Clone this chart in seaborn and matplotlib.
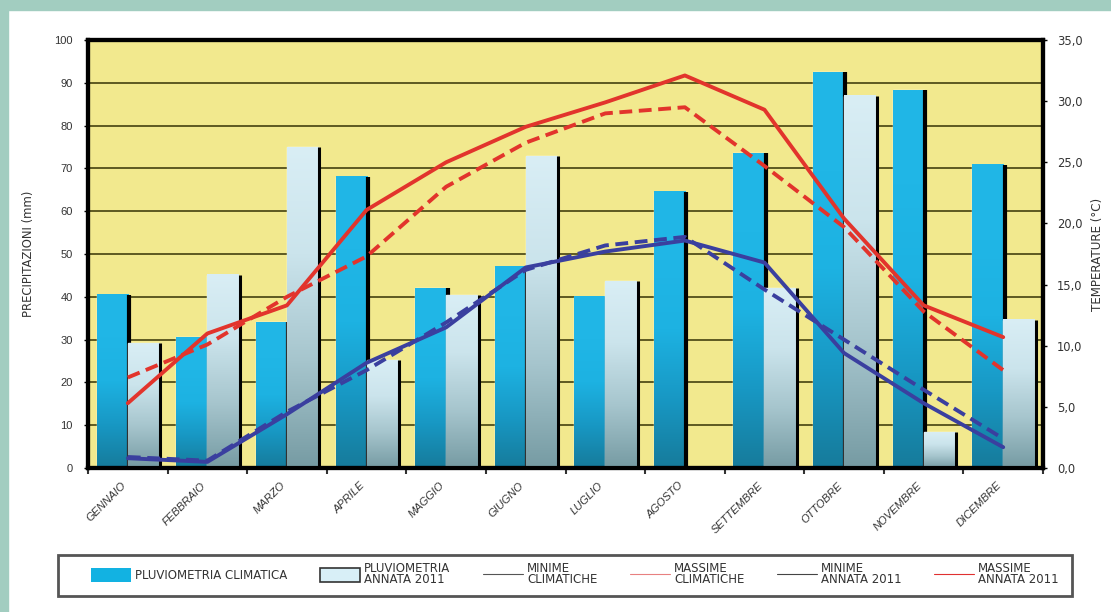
import numpy as np
import pandas as pd
import matplotlib
matplotlib.use("Agg")
import matplotlib.pyplot as plt
import seaborn as sns
from matplotlib.patches import Patch, Rectangle
from matplotlib.lines import Line2D
from matplotlib.colors import LinearSegmentedColormap
from matplotlib.ticker import FuncFormatter, MultipleLocator

# --- dati mensili -----------------------------------------------------------
mesi = ["GENNAIO", "FEBBRAIO", "MARZO", "APRILE", "MAGGIO", "GIUGNO",
        "LUGLIO", "AGOSTO", "SETTEMBRE", "OTTOBRE", "NOVEMBRE", "DICEMBRE"]

# precipitazioni (mm)
pluvio_clima = [40.5, 30.5, 34.0, 68.0, 42.0, 47.0, 40.0, 64.5, 73.5, 92.5, 88.3, 70.8]
pluvio_2011 = [29.2, 45.1, 75.0, 25.2, 40.4, 72.8, 43.6, 0.0, 42.0, 87.0, 8.4, 34.6]

# temperature (°C)
min_clima = [0.9, 0.6, 4.6, 8.0, 11.9, 16.2, 18.2, 18.9, 14.6, 10.5, 6.4, 2.4]
max_clima = [7.4, 10.1, 14.0, 17.3, 23.0, 26.6, 29.0, 29.5, 24.7, 19.7, 12.8, 8.0]
min_2011 = [0.8, 0.5, 4.4, 8.6, 11.5, 16.4, 17.7, 18.6, 16.8, 9.4, 5.3, 1.7]
max_2011 = [5.3, 11.0, 13.3, 21.1, 25.0, 27.9, 29.9, 32.1, 29.3, 20.4, 13.3, 10.7]

legenda = ["PLUVIOMETRIA CLIMATICA", "PLUVIOMETRIA\nANNATA 2011",
           "MINIME\nCLIMATICHE", "MASSIME\nCLIMATICHE",
           "MINIME\nANNATA 2011", "MASSIME\nANNATA 2011"]

# --- stile -----------------------------------------------------------------
sns.set_theme(style="white")
plt.rcParams['font.family'] = ['Liberation Sans', 'DejaVu Sans']
WIDE = ['DejaVu Sans']

BLU = "#17b0e0"
AZZURRO = "#cfe9f2"
ROSSO = "#e2342c"
VIOLA = "#3a3f9f"
GIALLO = "#f2e98e"
TEAL = "#a2cdc0"
TESTO = "#333333"

W, H = 1111, 612
fig = plt.figure(figsize=(W / 100, H / 100), dpi=100)
fig.patch.set_facecolor("white")
# cornice verde acqua in alto e a sinistra
fig.add_artist(Rectangle((0, 1 - 10 / H), 1, 10 / H, transform=fig.transFigure,
                         color=TEAL, zorder=0))
fig.add_artist(Rectangle((0, 0), 8 / W, 1, transform=fig.transFigure,
                         color=TEAL, zorder=0))

ax = fig.add_axes([88 / W, 1 - 468 / H, (1043 - 88) / W, 428 / H])
ax.set_facecolor(GIALLO)

df = pd.DataFrame({
    "mese": mesi * 2,
    "mm": pluvio_clima + pluvio_2011,
    "serie": ["clima"] * 12 + ["2011"] * 12,
})
sns.barplot(data=df, x="mese", y="mm", hue="serie", order=mesi,
            hue_order=["clima", "2011"], palette=[BLU, AZZURRO],
            width=0.78, gap=0, dodge=True, saturation=1, legend=False,
            errorbar=None, ax=ax)

# sfumature verticali e ombra nera sul lato destro di ogni barra
cmap_blu = LinearSegmentedColormap.from_list(
    "blu", ["#167b9b", "#1898c4", "#1db2e2", "#20b6e6", "#21b7e7"])
cmap_azz = LinearSegmentedColormap.from_list(
    "azz", ["#769ba3", "#a6c5cd", "#cbe4ec", "#d9eef5"])
grad = np.linspace(0, 1, 256).reshape(-1, 1)
for k, (cont, cmap, lw) in enumerate(zip(ax.containers, [cmap_blu, cmap_azz], [3.0, 2.2])):
    z = 2 + 2 * k
    for bar in cont:
        x0, w, h = bar.get_x(), bar.get_width(), bar.get_height()
        bar.set_zorder(z)
        if h <= 0:
            continue
        ax.imshow(grad, cmap=cmap, extent=(x0, x0 + w, 0, h), aspect="auto",
                  origin="lower", interpolation="bilinear", zorder=z + 0.1)
        ax.vlines(x0 + w + 0.018, 0, h, color="black", lw=lw, zorder=z + 0.5)

ax.set_xlim(-0.5, 11.5)
ax.set_ylim(0, 100)
ax.yaxis.set_major_locator(MultipleLocator(10))
ax.yaxis.grid(True, color="#5d5a22", lw=1.4)
ax.xaxis.grid(False)
ax.set_axisbelow(True)
for s in ax.spines.values():
    s.set_color("black")
    s.set_linewidth(3)

ax.set_xticks(range(12))
ax.set_xticklabels(mesi, rotation=45, ha="right", va="bottom", rotation_mode="anchor",
                   fontsize=8, color=TESTO, style="italic")
ax.set_xticks(np.arange(-0.5, 12, 1), minor=True)
ax.tick_params(axis="x", which="major", length=0, pad=14)
ax.tick_params(axis="x", which="minor", length=4, width=1.5, color=TESTO,
               direction="out", bottom=True)
ax.tick_params(axis="y", length=3, width=1, color="black", labelsize=8,
               labelcolor=TESTO, pad=8, left=True)
ax.set_xlabel("")
ax.set_ylabel("PRECIPITAZIONI (mm)", fontsize=8.4, color=TESTO, family=WIDE)
ax.yaxis.set_label_coords(-0.055, 0.5)

# --- temperature sull'asse destro ------------------------------------------
ax2 = ax.twinx()
pos = np.arange(len(mesi))
dash = (0, (3.3, 1.7))
for vals, col, ls in [(max_clima, ROSSO, dash), (max_2011, ROSSO, "-"),
                      (min_clima, VIOLA, dash), (min_2011, VIOLA, "-")]:
    sns.lineplot(x=pos, y=vals, ax=ax2, color=col, lw=2.8, linestyle=ls,
                 sort=False)
ax2.set_ylim(0, 35)
ax2.set_xlim(-0.5, 11.5)
ax2.yaxis.set_major_locator(MultipleLocator(5))
ax2.yaxis.set_major_formatter(FuncFormatter(lambda v, p: f"{v:.1f}".replace(".", ",")))
ax2.tick_params(axis="y", length=3, width=1, color="black", labelsize=8.3,
                labelcolor=TESTO, pad=7, right=True)
for t in ax2.get_yticklabels():
    t.set_family(WIDE)
ax2.grid(False)
for s in ax2.spines.values():
    s.set_color("black")
    s.set_linewidth(3)
ax2.set_ylabel("TEMPERATURE (°C)", fontsize=8.6, color=TESTO, rotation=90,
               family=WIDE)
ax2.yaxis.set_label_coords(1.05, 0.5)

# --- legenda ----------------------------------------------------------------
fig.add_artist(Rectangle((58 / W, 1 - 596 / H), (1072 - 58) / W, 41 / H,
                         transform=fig.transFigure, facecolor="white",
                         edgecolor="#555555", lw=2, zorder=1))
handles = [
    Patch(facecolor="#12b2e2", edgecolor="none"),
    Patch(facecolor="#d8eff7", edgecolor=TESTO, lw=1.2),
    Line2D([], [], color="#555555", lw=0.8),
    Line2D([], [], color="#e88080", lw=0.8),
    Line2D([], [], color="#444444", lw=0.8),
    Line2D([], [], color="#e03030", lw=0.8),
]
leg = fig.legend(handles, legenda, loc="center left",
                 bbox_to_anchor=(91 / W, 1 - 574 / H),
                 ncol=6, frameon=False, handlelength=3.4, handleheight=1.4,
                 handletextpad=0.34, columnspacing=2.75, borderaxespad=0,
                 borderpad=0, labelcolor=TESTO,
                 prop={"family": WIDE, "size": 8.5})
leg.set_zorder(2)
for t in leg.get_texts():
    t.set_linespacing(0.8)

fig.savefig("out.png", dpi=100, facecolor=fig.get_facecolor())
